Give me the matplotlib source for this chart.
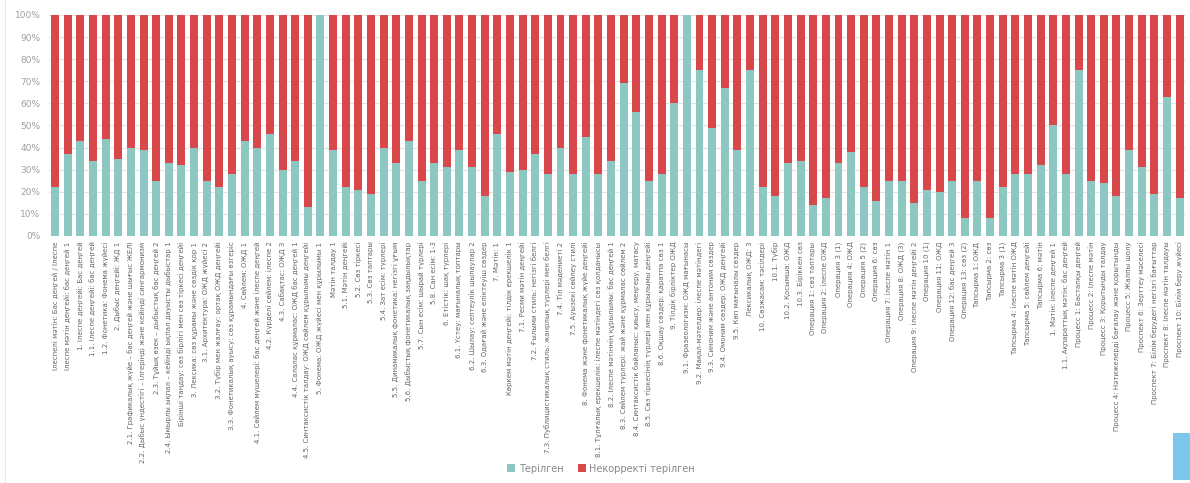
import matplotlib
matplotlib.use("Agg")
import matplotlib.pyplot as plt
import numpy as np
from matplotlib.patches import Rectangle, Patch
from matplotlib.ticker import PercentFormatter

categories = [
    "Ілеспелі мәтін: Бас деңгей / Ілеспе",
    "Ілеспе мәтін деңгейі: бас деңгей 1",
    "1. Ілеспе деңгейі: Бас деңгей",
    "1.1. Ілеспе деңгейі: бас деңгей",
    "1.2. Фонетика: Фонема жүйесі",
    "2. Дыбыс деңгейі: ЖД 1",
    "2.1. Графикалық жүйе – бас деңгей және шығыс ЖЕЛІ",
    "2.2. Дыбыс үндестігі – ілгерінді және кейінді сингармонизм",
    "2.3. Тұйық өзек – дыбыстық бас деңгей 2",
    "2.4. Ымырлы ықпал – кейінді ықпал дауысты дыбыстар 1",
    "Бірінші таңдау: сөз бірлігі мен сөз тіркесі деңгейі",
    "3. Лексика: сөз құрамы және сөздік қор 1",
    "3.1. Архитектура: ОЖД жүйесі 2",
    "3.2. Түбір мен жалғау: ортақ ОЖД деңгейі",
    "3.3. Фонетикалық ауысу: сөз құрамындағы өзгеріс",
    "4. Сөйлем: ОЖД 1",
    "4.1. Сөйлем мүшелері: бас деңгей және ілеспе деңгей",
    "4.2. Күрделі сөйлем: ілеспе 2",
    "4.3. Сабақтас: ОЖД 3",
    "4.4. Салалас құрмалас: ОЖД бас деңгей 1",
    "4.5. Синтаксистік талдау: ОЖД сөйлем құрылымы деңгейі",
    "5. Фонема: ОЖД жүйесі мен құрылымы 1",
    "Мәтін талдау 1",
    "5.1. Мәтін деңгейі",
    "5.2. Сөз тіркесі",
    "5.3. Сөз таптары",
    "5.4. Зат есім: түрлері",
    "5.5. Динамикалық фонетика: негізгі ұғым",
    "5.6. Дыбыстық фонетикалық заңдылықтар",
    "5.7. Сын есім: шырай түрлері",
    "5.8. Сан есім: 1-3",
    "6. Етістік: шақ түрлері",
    "6.1. Үстеу: мағыналық топтары",
    "6.2. Шылау: септеулік шылаулар 2",
    "6.3. Одағай және еліктеуіш сөздер",
    "7. Мәтін: 1",
    "Көркем мәтін деңгейі: тілдік ерекшелік 1",
    "7.1. Ресми мәтін деңгейі",
    "7.2. Ғылыми стиль: негізгі белгі",
    "7.3. Публицистикалық стиль: жанрлық түрлері мен белгі",
    "7.4. Тіл мәдениеті 2",
    "7.5. Ауызекі сөйлеу стилі",
    "8. Фонема және фонетикалық жүйе деңгейі",
    "8.1. Тұлғалық ерекшелік: ілеспе мәтіндегі сөз қолданысы",
    "8.2. Ілеспе мәтіннің құрылымы: бас деңгей 1",
    "8.3. Сөйлем түрлері: жай және құрмалас сөйлем 2",
    "8.4. Синтаксистік байланыс: қиысу, меңгеру, матасу",
    "8.5. Сөз тіркесінің түрлері мен құрылымы деңгейі",
    "8.6. Оқшау сөздер: қаратпа сөз 1",
    "9. Тілдік бірліктер ОЖД",
    "9.1. Фразеологизм: ОЖД мағынасы",
    "9.2. Мақал-мәтелдер: ілеспе мәтіндегі",
    "9.3. Синоним және антоним сөздер",
    "9.4. Омоним сөздер: ОЖД деңгейі",
    "9.5. Көп мағыналы сөздер",
    "Лексикалық ОЖД: 3",
    "10. Сөзжасам: тәсілдері",
    "10.1. Түбір",
    "10.2. Қосымша: ОЖД",
    "10.3. Біріккен сөз",
    "Операция 1: сөз таптары",
    "Операция 2: ілеспе ОЖД",
    "Операция 3 (1)",
    "Операция 4: ОЖД",
    "Операция 5 (2)",
    "Операция 6: сөз",
    "Операция 7: ілеспе мәтін 1",
    "Операция 8: ОЖД (3)",
    "Операция 9: ілеспе мәтін деңгейі 2",
    "Операция 10 (1)",
    "Операция 11: ОЖД",
    "Операция 12: бас деңгей 3",
    "Операция 13: сөз (2)",
    "Тапсырма 1: ОЖД",
    "Тапсырма 2: сөз",
    "Тапсырма 3 (1)",
    "Тапсырма 4: ілеспе мәтін ОЖД",
    "Тапсырма 5: сөйлем деңгейі",
    "Тапсырма 6: мәтін",
    "1. Мәтін: ілеспе деңгей 1",
    "1.1. Ақпараттық мәтін: бас деңгей",
    "Процесс 1: Бастапқы деңгей",
    "Процесс 2: Ілеспе мәтін",
    "Процесс 3: Қорытынды талдау",
    "Процесс 4: Нәтижелерді бағалау және қорытынды",
    "Процесс 5: Жалпы шолу",
    "Проспект 6: Зерттеу мәселесі",
    "Проспект 7: Білім берудегі негізгі бағыттар",
    "Проспект 8: Ілеспе мәтін талдауы",
    "Проспект 10: Білім беру жүйесі",
]

# share of the first series, percent
typed = [
    22, 37, 43, 34, 44, 35, 40, 39, 25, 33,
    32, 40, 25, 22, 28, 43, 40, 46, 30, 34,
    13, 100, 39, 22, 21, 19, 40, 33, 43, 25,
    33, 31, 39, 31, 18, 46, 29, 30, 37, 28,
    40, 28, 45, 28, 34, 69, 56, 25, 28, 60,
    100, 75, 49, 67, 39, 75, 22, 18, 33, 34,
    14, 17, 33, 38, 22, 16, 25, 25, 15, 21,
    20, 25, 8, 25, 8, 22, 28, 28, 32, 50,
    28, 75, 25, 24, 18, 39, 31, 19, 63, 17,
]

series_names = ["Терілген", "Некорректі терілген"]
colors = ["#8cc7c2", "#d8474a"]

typed = np.array(typed, dtype=float)
other = 100.0 - typed

fig = plt.figure(figsize=(11.9, 4.83), dpi=100)
ax = fig.add_axes([0.041, 0.5114, 0.9556, 0.4576])

x = np.arange(len(categories))
w = 0.63
ax.bar(x, typed, width=w, color=colors[0], zorder=2)
ax.bar(x, other, width=w, bottom=typed, color=colors[1], zorder=2)

ax.set_xlim(-0.5, len(categories) - 0.5)
ax.set_ylim(0, 100)
ax.set_yticks(np.arange(0, 101, 10))
ax.yaxis.set_major_formatter(PercentFormatter(decimals=0))
ax.grid(axis="y", color="#e3e3e3", linewidth=0.8, zorder=0)
ax.set_axisbelow(True)
for s in ax.spines.values():
    s.set_visible(False)

ax.tick_params(axis="y", length=0, labelsize=6.5, labelcolor="#a0a0a0", pad=6)
ax.set_xticks(x)
ax.set_xticklabels(categories, rotation=90, fontsize=5, color="#666666")
ax.tick_params(axis="x", length=0, pad=4)

handles = [Patch(facecolor=c, edgecolor="none") for c in colors]
fig.legend(handles, series_names, loc="center", bbox_to_anchor=(0.505, 0.03),
           ncol=2, frameon=False, fontsize=7, labelcolor="#888888",
           handlelength=0.8, handleheight=0.8, handletextpad=0.4, columnspacing=1.5)

# faint frame line on the left and the small side button
fig.add_artist(plt.Line2D([0.004, 0.004], [0.0, 1.0], color="#e6e6e6", linewidth=0.8,
                          transform=fig.transFigure))
fig.add_artist(Rectangle((1173 / 1190, 3 / 483), 17 / 1190, 47 / 483,
                         facecolor="#7cc8ec", edgecolor="none", transform=fig.transFigure))

fig.savefig("out.png", dpi=100, facecolor="white")
